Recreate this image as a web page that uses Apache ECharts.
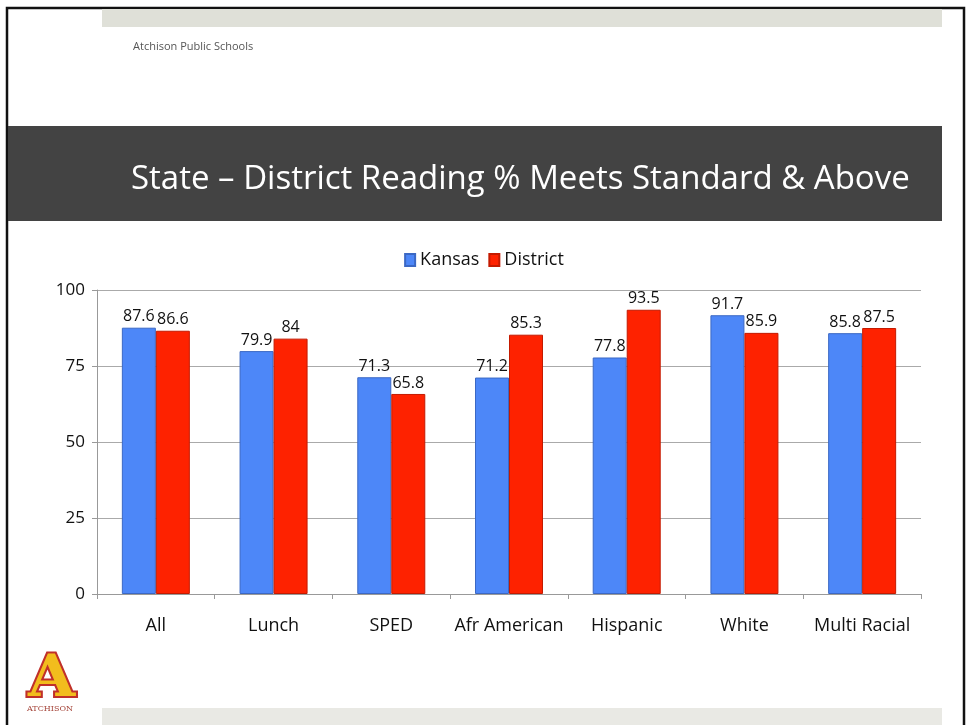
<!DOCTYPE html>
<html>
<head>
<meta charset="utf-8">
<script src="https://cdn.jsdelivr.net/npm/echarts@6/dist/echarts.min.js"></script>
<style>
  html, body { margin: 0; padding: 0; background: #fff; }
  #chart { width: 968px; height: 725px; }
</style>
</head>
<body>
<div id="chart"></div>
<script>
const categories = ['All', 'Lunch', 'SPED', 'Afr American', 'Hispanic', 'White', 'Multi Racial']
const kansas = [87.6, 79.9, 71.3, 71.2, 77.8, 91.7, 85.8]
const district = [86.6, 84, 65.8, 85.3, 93.5, 85.9, 87.5]
const yTicks = [0, 25, 50, 75, 100]

const FONT = '"Open Sans", "Noto Sans", sans-serif'

const chart = echarts.init(document.getElementById('chart'))

const labelStyle = {
  show: true,
  position: 'top',
  distance: 3,
  color: '#111',
  fontSize: 16,
  fontFamily: FONT,
}

const option = {
  backgroundColor: '#fff',
  animation: false,
  graphic: [
    // page border
    { type: 'rect', shape: { x: 7, y: 8, width: 957, height: 730 }, style: { fill: 'none', stroke: '#111', lineWidth: 2.5 } },
    // top and bottom bands
    { type: 'rect', shape: { x: 102, y: 9, width: 840, height: 18 }, style: { fill: '#dfe0d8' } },
    { type: 'rect', shape: { x: 102, y: 708, width: 840, height: 20 }, style: { fill: '#e9e9e4' } },
    { type: 'text', left: 133, top: 41, style: { text: 'Atchison Public Schools', fill: '#555', fontSize: 11, fontFamily: FONT } },
    // title band
    { type: 'rect', shape: { x: 8, y: 126, width: 934, height: 95 }, style: { fill: '#434343' } },
    {
      type: 'text', left: 131, top: 163,
      style: { text: 'State – District Reading % Meets Standard & Above', fill: '#fff', fontSize: 33, fontFamily: FONT }
    },
    // logo
    {
      type: 'text', left: 26, top: 650, scaleX: 1.05,
      style: { text: 'A', fill: '#f2bd1d', stroke: '#c0302a', lineWidth: 4, fontSize: 58, fontWeight: 'bold', fontFamily: '"DejaVu Serif", serif' }
    },
    {
      type: 'text', left: 27, top: 705,
      style: { text: 'ATCHISON', fill: '#a5453a', fontSize: 8, fontFamily: '"DejaVu Serif", serif' }
    }
  ],
  legend: {
    top: 246,
    left: 'center',
    itemWidth: 10,
    itemHeight: 12,
    itemGap: 9,
    textStyle: { fontSize: 18, fontFamily: FONT, color: '#111' },
    data: [
      { name: 'Kansas', icon: 'rect' },
      { name: 'District', icon: 'rect' }
    ]
  },
  grid: { left: 97, right: 47, top: 290, bottom: 131 },
  xAxis: {
    type: 'category',
    data: categories,
    axisLine: { lineStyle: { color: '#999', width: 1 } },
    axisTick: { show: true, interval: 0, length: 5, lineStyle: { color: '#999' } },
    axisLabel: { interval: 0, color: '#111', fontSize: 18, fontFamily: FONT, margin: 23 }
  },
  yAxis: {
    type: 'value',
    min: yTicks[0],
    max: yTicks[yTicks.length - 1],
    interval: 25,
    axisLine: { show: true, lineStyle: { color: '#999' } },
    axisTick: { show: true, length: 5, lineStyle: { color: '#999' } },
    axisLabel: { color: '#111', fontSize: 17, fontFamily: FONT, margin: 12 },
    splitLine: { lineStyle: { color: '#aaa' } }
  },
  series: [
    {
      name: 'Kansas',
      type: 'bar',
      data: kansas,
      barWidth: 34,
      barGap: '0%',
      itemStyle: { color: '#4d87f8', borderColor: '#3b68c4', borderWidth: 1 },
      label: labelStyle
    },
    {
      name: 'District',
      type: 'bar',
      data: district,
      barWidth: 34,
      itemStyle: { color: '#fe2200', borderColor: '#c41a00', borderWidth: 1 },
      label: labelStyle
    }
  ]
}

chart.setOption(option)
</script>
</body>
</html>
